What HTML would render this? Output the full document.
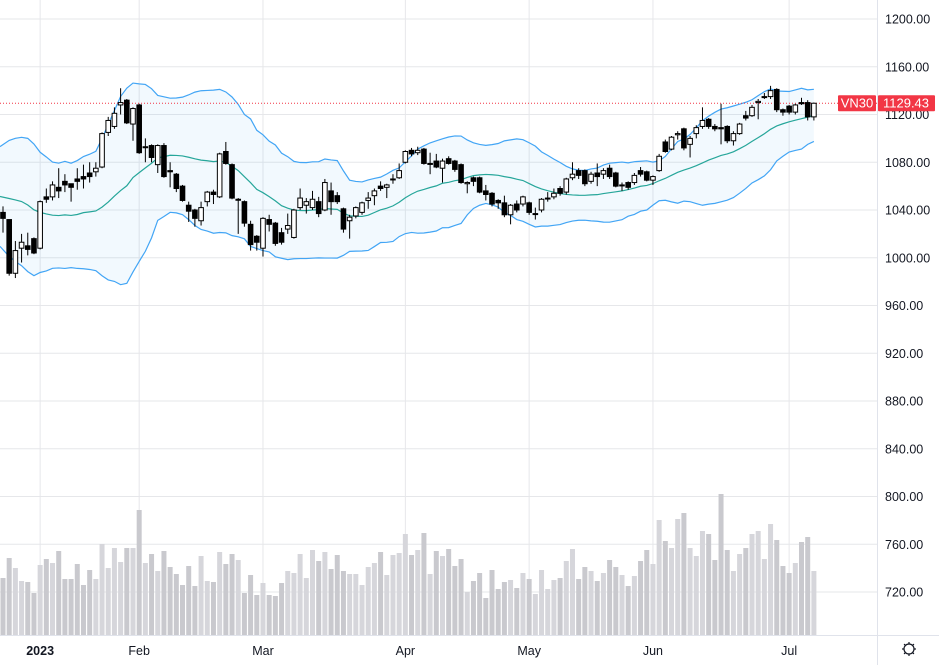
<!DOCTYPE html>
<html><head><meta charset="utf-8"><style>
html,body{margin:0;padding:0;background:#fff;width:939px;height:665px;overflow:hidden}
svg{display:block;font-family:"Liberation Sans",sans-serif}
</style></head><body>
<svg id="chart" width="939" height="665" viewBox="0 0 939 665" xmlns="http://www.w3.org/2000/svg">
<g id="grid"></g>
<g id="vol"></g>
<g id="bb"></g>
<g id="candles"></g>
<g id="axes"></g>
</svg>
<script>
const opens=[1038,1032,987,1008,1010,1016,1008,1051,1051,1059,1064,1062,1066,1068,1071,1072,1076,1105,1110,1128,1132,1112,1128,1093,1094,1078,1094,1073,1070,1060,1044,1040,1031,1047,1055,1051,1089,1078,1049,1047,1028,1018,1008,1032,1029,1021,1024,1017,1042,1044,1042,1047,1040,1056,1052,1041,1031,1035,1038,1048,1052,1060,1059,1066,1067,1080,1090,1088,1091,1079,1081,1075,1083,1081,1078,1062,1067,1067,1056,1054,1048,1046,1036,1045,1045,1046,1037,1040,1050,1051,1058,1055,1067,1073,1073,1064,1071,1070,1075,1071,1061,1063,1063,1073,1072,1065,1073,1097,1091,1103,1108,1095,1104,1110,1116,1110,1109,1110,1098,1104,1119,1119,1130,1135,1135,1141,1124,1127,1122,1130,1130,1118];
const highs=[1043,1032,1014,1020,1021,1017,1048,1058,1064,1075,1070,1062,1075,1078,1080,1080,1105,1118,1126,1142,1133,1126,1129,1100,1095,1095,1096,1080,1071,1061,1047,1041,1047,1056,1057,1088,1097,1079,1050,1048,1031,1019,1034,1036,1030,1025,1037,1041,1058,1050,1056,1051,1066,1063,1055,1042,1036,1043,1047,1055,1058,1064,1062,1070,1079,1090,1092,1093,1092,1088,1087,1083,1085,1082,1079,1064,1068,1068,1061,1055,1049,1052,1045,1048,1052,1047,1042,1050,1055,1058,1060,1067,1080,1075,1074,1072,1079,1075,1078,1072,1063,1064,1071,1076,1073,1069,1087,1099,1102,1106,1109,1102,1111,1126,1117,1112,1129,1111,1106,1113,1123,1128,1133,1138,1144,1142,1125,1128,1129,1134,1132,1130];
const lows=[1021,985,983,996,1002,1003,1007,1046,1048,1050,1055,1047,1057,1058,1063,1068,1075,1102,1108,1120,1112,1098,1087,1080,1080,1071,1067,1059,1055,1047,1030,1026,1027,1043,1045,1050,1078,1049,1020,1026,1006,1006,1001,1022,1010,1011,1020,1016,1040,1037,1040,1034,1039,1036,1045,1021,1016,1033,1036,1041,1044,1056,1050,1062,1066,1079,1085,1086,1078,1070,1075,1063,1078,1072,1062,1054,1060,1054,1048,1043,1041,1034,1028,1038,1043,1036,1032,1038,1047,1049,1052,1053,1065,1066,1060,1062,1060,1066,1066,1059,1056,1057,1061,1068,1064,1061,1072,1088,1090,1099,1090,1084,1100,1108,1108,1106,1095,1096,1094,1103,1115,1118,1116,1133,1133,1122,1119,1120,1120,1128,1115,1115];
const closes=[1033,987,1006,1013,1007,1004,1047,1049,1061,1056,1061,1059,1064,1066,1068,1075,1104,1115,1121,1130,1113,1125,1088,1093,1084,1094,1068,1072,1058,1048,1039,1033,1042,1055,1053,1087,1079,1050,1049,1029,1011,1013,1033,1028,1012,1013,1027,1040,1050,1047,1049,1037,1063,1047,1047,1024,1034,1042,1046,1050,1056,1058,1061,1066,1073,1089,1087,1090,1079,1079,1076,1081,1079,1074,1063,1063,1064,1055,1053,1045,1046,1036,1044,1040,1051,1038,1037,1049,1050,1054,1054,1066,1070,1069,1062,1070,1068,1073,1068,1060,1061,1059,1069,1070,1065,1068,1085,1089,1101,1104,1092,1100,1109,1115,1110,1108,1108,1098,1104,1112,1117,1126,1131,1135,1140,1124,1122,1122,1128,1129,1118,1129.43];
const volumes=[57,77,67,54,53,42,70,76,72,84,56,56,71,50,65,56,91,67,87,73,87,87,125,72,81,64,84,68,61,50,69,49,79,54,53,83,71,81,75,42,60,40,52,40,39,52,64,62,81,57,85,74,83,66,80,64,61,61,50,68,72,83,60,80,82,101,80,85,102,61,84,79,86,69,76,43,54,62,37,65,46,53,55,47,62,56,41,65,46,55,57,74,86,56,68,64,54,62,75,68,60,49,59,74,85,71,115,94,87,116,122,87,79,104,101,75,141,85,64,81,87,101,104,76,111,95,69,62,72,93,98,64];
const priorCloses=[1020,1030,1040,1065,1085,1090,1075,1082,1062,1050,1068,1048,1035,1055,1060,1040,1030,1020,1038];
const priceTicks=[1200,1160,1120,1080,1040,1000,960,920,880,840,800,760,720];
const monthLabels=["2023","Feb","Mar","Apr","May","Jun","Jul"];
const monthIdx=[6,22,42,65,85,105,127];

const NS="http://www.w3.org/2000/svg";
function el(tag,attrs,parent){const e=document.createElementNS(NS,tag);for(const k in attrs)e.setAttribute(k,attrs[k]);parent.appendChild(e);return e;}
const xOf=i=>3+i*6.19;
const yOf=p=>19+(1200-p)*1.19375;
const volBase=635, volScale=1.0;
const PW=877;

const grid=document.getElementById('grid');
priceTicks.forEach(p=>{
  const l=el('line',{x1:0,x2:PW,y1:yOf(p),y2:yOf(p),stroke:'#e6e7ea','stroke-width':1},grid);
  
  
});
monthIdx.forEach(i=>{
  const l=el('line',{x1:xOf(i),x2:xOf(i),y1:0,y2:635,stroke:'#e6e7ea','stroke-width':1},grid);
  
  
});

const vol=document.getElementById('vol');
volumes.forEach((v,i)=>{
  const up=closes[i]>=opens[i];
  const r=el('rect',{x:xOf(i)-2.5,y:volBase-v*volScale,width:5,height:v*volScale,fill:up?'#d6d6db':'#c9c9ce'},vol);
  
  
});

const all=priorCloses.concat(closes);
const up=[],mid=[],lo=[];
for(let i=0;i<closes.length;i++){
  const w=all.slice(i,i+20);
  const m=w.reduce((a,b)=>a+b,0)/20;
  const sd=Math.sqrt(w.reduce((a,b)=>a+(b-m)*(b-m),0)/20);
  mid.push(m);up.push(m+2*sd);lo.push(m-2*sd);
}
const bb=document.getElementById('bb');
const ptsU=up.map((v,i)=>[xOf(i),yOf(v)]);
const ptsL=lo.map((v,i)=>[xOf(i),yOf(v)]);
ptsU[0][0]=0;ptsL[0][0]=0;
const fillD='M'+ptsU.map(p=>p.join(',')).join('L')+'L'+ptsL.slice().reverse().map(p=>p.join(',')).join('L')+'Z';
const f=el('path',{d:fillD,fill:'rgba(33,150,243,0.06)'},bb);


const lu=el('path',{d:'M'+ptsU.map(p=>p.join(',')).join('L'),fill:'none',stroke:'#42a5f5','stroke-width':1.2},bb);


const ll=el('path',{d:'M'+ptsL.map(p=>p.join(',')).join('L'),fill:'none',stroke:'#42a5f5','stroke-width':1.2},bb);


const ptsM=mid.map((v,i)=>[i===0?0:xOf(i),yOf(v)]);
const lm=el('path',{d:'M'+ptsM.map(p=>p.join(',')).join('L'),fill:'none',stroke:'#26a69a','stroke-width':1.2},bb);



const last=closes[closes.length-1];
const pl=el('line',{x1:0,x2:PW,y1:yOf(last),y2:yOf(last),stroke:'#f23645','stroke-width':1,'stroke-dasharray':'1,2'},bb);



const cg=document.getElementById('candles');
closes.forEach((c,i)=>{
  const o=opens[i],x=xOf(i);
  const g=el('g',{},cg);
  
  
  el('line',{x1:x,x2:x,y1:yOf(highs[i]),y2:yOf(lows[i]),stroke:'#000','stroke-width':1},g);
  const t=yOf(Math.max(o,c)),b=yOf(Math.min(o,c));
  const isUp=c>=o;
  el('rect',{x:x-2.3,y:t,width:4.6,height:Math.max(b-t,1),fill:isUp?'#fff':'#000',stroke:'#000','stroke-width':1},g);
});

const ax=document.getElementById('axes');
const sep=el('line',{x1:PW+0.5,x2:PW+0.5,y1:0,y2:665,stroke:'#e0e3eb','stroke-width':1},ax);


const bl=el('line',{x1:0,x2:939,y1:635.5,y2:635.5,stroke:'#e0e3eb','stroke-width':1},ax);


priceTicks.forEach(p=>{
  const t=el('text',{x:885,y:yOf(p)+4.5,'font-size':12.5,fill:'#131722'},ax);
  t.textContent=p.toFixed(2);
  
  
});
monthIdx.forEach((i,k)=>{
  const t=el('text',{x:xOf(i),y:655,'font-size':12.5,fill:'#131722','text-anchor':'middle','font-weight':k===0?'bold':'normal'},ax);
  t.textContent=monthLabels[k];
  
  
});
const ly=yOf(last);
const sb=el('rect',{x:838,y:ly-8,width:38,height:16,fill:'#f23645',rx:1},ax);


const st=el('text',{x:857,y:ly+4.5,'font-size':13,fill:'#fff','text-anchor':'middle'},ax);
st.textContent='VN30';


const pb=el('rect',{x:878,y:ly-8,width:57,height:16,fill:'#f23645',rx:1},ax);


const pt=el('text',{x:906,y:ly+4.5,'font-size':13,fill:'#fff','text-anchor':'middle'},ax);
pt.textContent=last.toFixed(2);


const gear=el('g',{transform:'translate(909,649)'},ax);


el('circle',{cx:0,cy:0,r:5,fill:'none',stroke:'#131722','stroke-width':1.2},gear);
for(let a=0;a<8;a++){const r=a*Math.PI/4;el('line',{x1:Math.cos(r)*5,y1:Math.sin(r)*5,x2:Math.cos(r)*7,y2:Math.sin(r)*7,stroke:'#131722','stroke-width':1.2},gear);}
</script>
</body></html>
